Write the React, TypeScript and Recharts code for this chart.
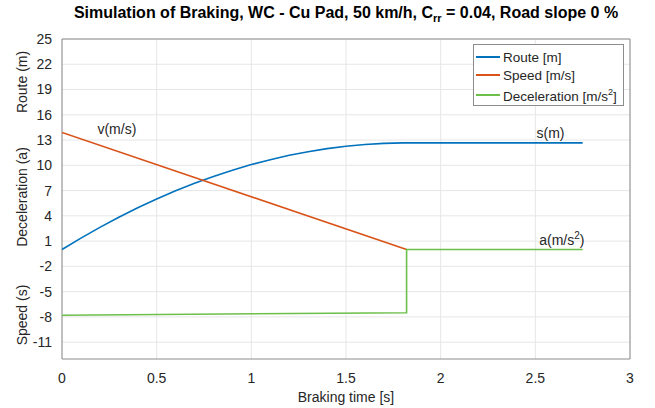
import React from 'react';
import { LineChart, Line, XAxis, YAxis, CartesianGrid, ReferenceArea, ReferenceDot } from 'recharts';

const routeTime = [0, 0.1, 0.2, 0.3, 0.4, 0.5, 0.6, 0.7, 0.8, 0.9, 1.0, 1.1, 1.2, 1.3, 1.4, 1.5, 1.6, 1.7, 1.8, 1.82, 2.0, 2.25, 2.5, 2.75];
const routeValues = [0, 1.35, 2.63, 3.83, 4.95, 6.0, 6.97, 7.86, 8.68, 9.42, 10.09, 10.67, 11.19, 11.62, 11.98, 12.27, 12.47, 12.6, 12.66, 12.66, 12.66, 12.66, 12.66, 12.66];
const speedTime = [0, 1.82];
const speedValues = [13.9, 0];
const decelTime = [0, 1.82, 1.82, 2.75];
const decelValues = [-7.8, -7.5, 0, 0];

const xTicks = [0, 0.5, 1, 1.5, 2, 2.5, 3];
const yTicks = [-11, -8, -5, -2, 1, 4, 7, 10, 13, 16, 19, 22, 25];

const annotations = [
  { t: 0.29, v: 14.3, text: 'v(m/s)', sup: '' },
  { t: 2.58, v: 13.8, text: 's(m)', sup: '' },
  { t: 2.64, v: 1.1, text: 'a(m/s', sup: '2' },
];

const seriesNames = ['Route [m]', 'Speed [m/s]', 'Deceleration [m/s'];
const colors = ['#0072BD', '#D95319', '#6CC04A'];

const routeData = routeTime.map((t, i) => ({ t, v: routeValues[i] }));
const speedData = speedTime.map((t, i) => ({ t, v: speedValues[i] }));
const decelData = decelTime.map((t, i) => ({ t, v: decelValues[i] }));

const FONT = '"Liberation Sans", Arial, Helvetica, sans-serif';
const TXT = '#262626';

const LegendBox = () => (
  <div style={{ position: 'absolute', left: 473, top: 44, border: '1px solid #8c8c8c', background: '#fff', width: 151, height: 62, boxSizing: 'border-box', fontFamily: FONT, fontSize: 13.5, color: TXT, paddingTop: 3 }}>
    {seriesNames.map((n, i) => (
      <div key={n} style={{ display: 'flex', alignItems: 'center', height: i === 2 ? 22 : 18 }}>
        <div style={{ width: 24, height: 0, borderTop: `2px solid ${colors[i]}`, marginLeft: 2, marginRight: 3 }} />
        <span>{n}{i === 2 ? <><sup style={{ fontSize: 9 }}>2</sup>]</> : null}</span>
      </div>
    ))}
  </div>
);

const AnnLabel = (props: any) => {
  const { viewBox, text, sup } = props;
  const x = viewBox.x + (viewBox.width || 0) / 2;
  const y = viewBox.y + (viewBox.height || 0) / 2;
  return (
    <text x={x} y={y} dy={5} textAnchor="middle" fontFamily={FONT} fontSize={14} fill={TXT}>
      {text}
      {sup ? <tspan dy={-6} fontSize={10}>{sup}</tspan> : null}
      {sup ? <tspan dy={6}>)</tspan> : null}
    </text>
  );
};

const YLabel = () => (
  <g fontFamily={FONT} fontSize={14} fill={TXT}>
    <text x={0} y={0} transform="translate(27,82) rotate(-90)" textAnchor="middle">Route (m)</text>
    <text x={0} y={0} transform="translate(27,197) rotate(-90)" textAnchor="middle">Deceleration (a)</text>
    <text x={0} y={0} transform="translate(27,315) rotate(-90)" textAnchor="middle">Speed (s)</text>
  </g>
);

export default function App() {
  return (
    <div style={{ position: 'absolute', left: 0, top: 0, width: 655, height: 408, background: '#fff' }}>
      <div style={{ position: 'absolute', left: 46, width: 600, top: 4, textAlign: 'center', fontFamily: FONT, fontWeight: 'bold', fontSize: 16, color: '#000', whiteSpace: 'nowrap' }}>
        Simulation of Braking, WC - Cu Pad, 50 km/h, C<sub style={{ fontSize: 11 }}>rr</sub> = 0.04, Road slope 0 %
      </div>
      <LineChart width={655} height={408} margin={{ top: 39, right: 25, bottom: 2, left: 22 }}>
        <CartesianGrid stroke="#e6e6e6" strokeWidth={1} verticalValues={xTicks} horizontalValues={yTicks} />
        <XAxis type="number" dataKey="t" domain={[0, 3]} ticks={xTicks} allowDataOverflow interval={0}
          tick={{ fontFamily: FONT, fontSize: 14, fill: TXT }} tickLine={false} axisLine={false} height={47} tickMargin={8}
          label={{ value: 'Braking time [s]', position: 'insideBottom', offset: 4, style: { fontFamily: FONT, fontSize: 14, fill: TXT } }} />
        <YAxis type="number" domain={[-13, 25]} ticks={yTicks} allowDataOverflow width={40} interval={0}
          tick={{ fontFamily: FONT, fontSize: 14, fill: TXT }} tickLine={false} axisLine={false} tickMargin={4}
          label={{ content: () => <YLabel /> }} />
        <ReferenceArea x1={0} x2={3} y1={-13} y2={25} fill="none" stroke="#8c8c8c" strokeWidth={1} ifOverflow="visible" />
        <Line data={routeData} dataKey="v" stroke={colors[0]} strokeWidth={1.6} dot={false} isAnimationActive={false} type="linear" />
        <Line data={speedData} dataKey="v" stroke={colors[1]} strokeWidth={1.6} dot={false} isAnimationActive={false} type="linear" />
        <Line data={decelData} dataKey="v" stroke={colors[2]} strokeWidth={1.6} dot={false} isAnimationActive={false} type="linear" />
        {annotations.map((a) => (
          <ReferenceDot key={a.text} x={a.t} y={a.v} r={0} fill="none" stroke="none"
            label={(p: any) => <AnnLabel {...p} text={a.text} sup={a.sup} />} />
        ))}
      </LineChart>
      <LegendBox />
    </div>
  );
}
